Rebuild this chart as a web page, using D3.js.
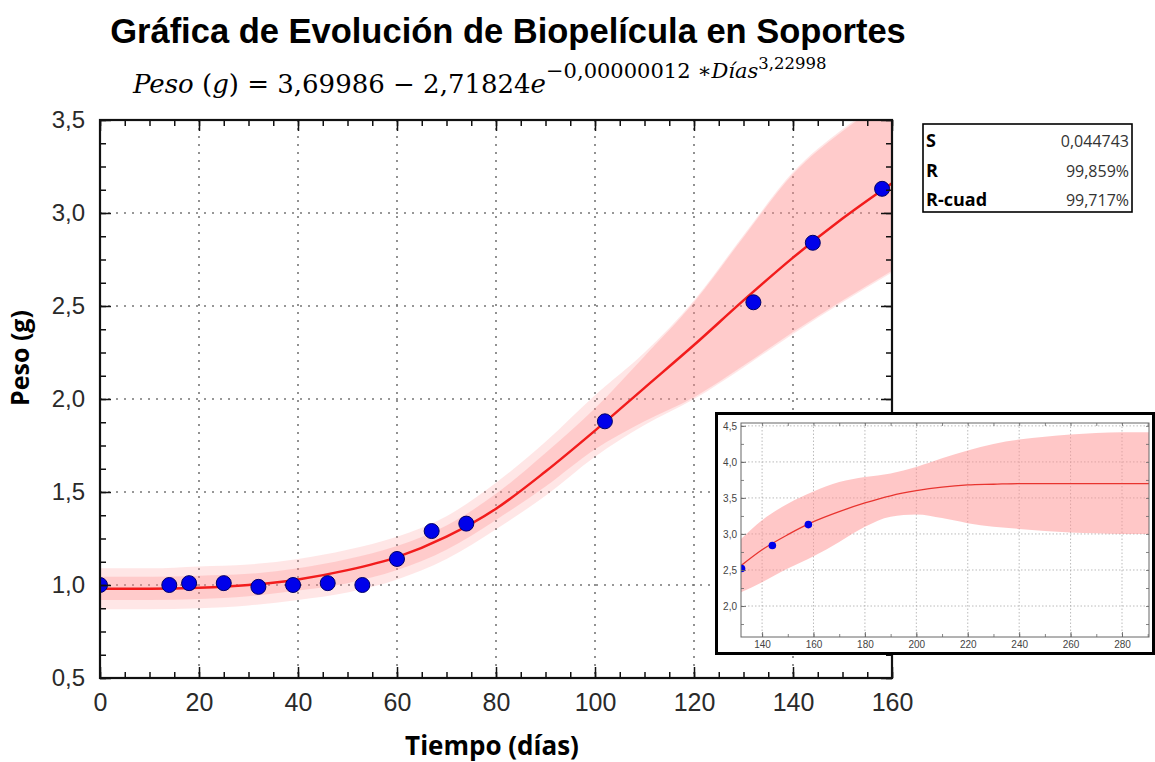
<!DOCTYPE html>
<html>
<head>
<meta charset="utf-8">
<script src="https://d3js.org/d3.v7.min.js"></script>
<style>
html, body { margin: 0; padding: 0; background: #fff; }
svg { display: block; }
.grid line { stroke: #777; stroke-width: 1.6; stroke-dasharray: 2,6; }
.igrid line { stroke: #aaa; stroke-width: 0.8; stroke-dasharray: 1.5,2; }
</style>
</head>
<body>
<script>
// measured points (días, peso g)
var dias = [0, 14, 18, 25, 32, 39, 46, 53, 60, 67, 74, 102, 132, 144, 158];
var peso = [1.00, 1.00, 1.01, 1.01, 0.99, 1.00, 1.01, 1.00, 1.14, 1.29, 1.33, 1.88, 2.52, 2.84, 3.13];

// fitted curve and bands
var fitT = [0, 10, 20, 30, 40, 50, 60, 70, 80, 90, 100, 110, 120, 130, 140, 150, 160];
var fitPeso = [0.98, 0.98, 0.985, 1.0, 1.03, 1.08, 1.15, 1.26, 1.41, 1.61, 1.83, 2.06, 2.29, 2.53, 2.76, 2.97, 3.16];
var predLo = [0.87, 0.87, 0.875, 0.89, 0.92, 0.96, 1.03, 1.14, 1.30, 1.48, 1.69, 1.86, 2.00, 2.17, 2.35, 2.52, 2.68];
var predHi = [1.09, 1.09, 1.10, 1.11, 1.14, 1.19, 1.26, 1.37, 1.55, 1.77, 2.02, 2.25, 2.53, 2.88, 3.22, 3.45, 3.63];
var confLo = [0.92, 0.92, 0.925, 0.94, 0.97, 1.01, 1.08, 1.19, 1.35, 1.53, 1.73, 1.88, 2.01, 2.18, 2.36, 2.53, 2.69];
var confHi = [1.045, 1.045, 1.05, 1.06, 1.09, 1.14, 1.21, 1.32, 1.49, 1.71, 1.95, 2.23, 2.52, 2.87, 3.21, 3.44, 3.62];

// inset (extrapolation)
var insT = [131.8, 140, 150, 160, 170, 180, 190, 200, 210, 220, 230, 240, 250, 260, 270, 280, 290.5];
var insPeso = [2.56, 2.78, 2.99, 3.17, 3.31, 3.43, 3.53, 3.60, 3.65, 3.68, 3.69, 3.70, 3.70, 3.70, 3.70, 3.70, 3.70];
var insLo = [2.19, 2.33, 2.52, 2.69, 2.89, 3.10, 3.24, 3.27, 3.22, 3.15, 3.10, 3.07, 3.04, 3.02, 3.01, 3.00, 3.00];
var insHi = [2.93, 3.19, 3.42, 3.59, 3.72, 3.79, 3.84, 3.93, 4.05, 4.16, 4.25, 4.31, 4.35, 4.38, 4.40, 4.41, 4.41];
var insDias = [132, 144, 158];
var insPts = [2.52, 2.84, 3.13];

// stats box
var statNames = ["S", "R", "R-cuad"];
var statValues = ["0,044743", "99,859%", "99,717%"];

var W = 1155, H = 762;
var svg = d3.select("body").append("svg").attr("width", W).attr("height", H);

var comma = function(f) { return function(d) { return f(d).replace(".", ","); }; };

// title
svg.append("text")
    .attr("x", 508).attr("y", 43)
    .attr("text-anchor", "middle")
    .style("font-family", "'Liberation Sans', Arial, sans-serif")
    .style("font-weight", "bold")
    .style("font-size", "34.5px")
    .text("Gráfica de Evolución de Biopelícula en Soportes");

// equation
var eq = svg.append("text")
    .attr("x", 133).attr("y", 93)
    .style("font-family", "'DejaVu Serif', serif")
    .style("font-size", "26px");
eq.append("tspan").style("font-style", "italic").text("Peso");
eq.append("tspan").text(" (");
eq.append("tspan").style("font-style", "italic").text("g");
eq.append("tspan").text(") = 3,69986 − 2,71824");
eq.append("tspan").style("font-style", "italic").text("e");
eq.append("tspan").attr("dy", -15).style("font-size", "21px").text("−0,00000012 ∗");
eq.append("tspan").style("font-size", "21px").style("font-style", "italic").text("Días");
eq.append("tspan").attr("dy", -9).style("font-size", "16.5px").text("3,22998");

// ---------- main plot ----------
var x = d3.scaleLinear().domain([0, 160]).range([100, 892]);
var y = d3.scaleLinear().domain([0.5, 3.5]).range([678, 120]);

svg.append("clipPath").attr("id", "clipMain")
    .append("rect").attr("x", 100).attr("y", 120).attr("width", 792).attr("height", 558);

// grid
svg.append("g").attr("class", "grid")
    .selectAll("line").data(d3.range(20, 160, 20)).enter().append("line")
    .attr("x1", function(d) { return x(d); }).attr("x2", function(d) { return x(d); })
    .attr("y1", 120).attr("y2", 678);
svg.append("g").attr("class", "grid")
    .selectAll("line").data([1.0, 1.5, 2.0, 2.5, 3.0]).enter().append("line")
    .attr("y1", function(d) { return y(d); }).attr("y2", function(d) { return y(d); })
    .attr("x1", 100).attr("x2", 892);

var plot = svg.append("g").attr("clip-path", "url(#clipMain)");

function band(lo, hi) {
    return d3.area()
        .x(function(d, i) { return x(fitT[i]); })
        .y0(function(d, i) { return y(lo[i]); })
        .y1(function(d, i) { return y(hi[i]); })
        .curve(d3.curveMonotoneX)(fitT);
}
plot.append("path").attr("d", band(predLo, predHi)).attr("fill", "#ff8f8f").attr("fill-opacity", 0.22);
plot.append("path").attr("d", band(confLo, confHi)).attr("fill", "#ff8f8f").attr("fill-opacity", 0.3);

plot.append("path")
    .attr("d", d3.line()
        .x(function(d, i) { return x(fitT[i]); })
        .y(function(d) { return y(d); })
        .curve(d3.curveMonotoneX)(fitPeso))
    .attr("fill", "none").attr("stroke", "#f21c1c").attr("stroke-width", 2.5);

plot.selectAll("circle.pt").data(dias).enter().append("circle")
    .attr("class", "pt")
    .attr("cx", function(d) { return x(d); })
    .attr("cy", function(d, i) { return y(peso[i]); })
    .attr("r", 7.5)
    .attr("fill", "#0000ea").attr("stroke", "#000066").attr("stroke-width", 1);

// ticks (inside, on all four sides)
var tickFont = function(g, size) {
    g.select(".domain").remove();
    g.selectAll("line").attr("stroke", "#111").attr("stroke-width", 1.5);
    g.selectAll("text").style("font-family", "'Liberation Sans', Arial, sans-serif")
        .style("font-size", size).attr("fill", "#2a2a2a");
};
var xMajor = d3.range(0, 161, 20), xMinor = d3.range(0, 161, 5);
var yMajor = d3.range(0.5, 3.51, 0.5), yMinor = d3.range(0.5, 3.51, 0.125);

svg.append("g").attr("transform", "translate(0,678)")
    .call(d3.axisBottom(x).tickValues(xMinor).tickSize(-6).tickFormat("")).call(tickFont, "24px");
svg.append("g").attr("transform", "translate(0,678)")
    .call(d3.axisBottom(x).tickValues(xMajor).tickSize(-11).tickPadding(15).tickFormat(d3.format("d")))
    .call(tickFont, "25px");
svg.append("g").attr("transform", "translate(0,120)")
    .call(d3.axisTop(x).tickValues(xMinor).tickSize(-6).tickFormat("")).call(tickFont, "24px");
svg.append("g").attr("transform", "translate(0,120)")
    .call(d3.axisTop(x).tickValues(xMajor).tickSize(-11).tickFormat("")).call(tickFont, "24px");
svg.append("g").attr("transform", "translate(100,0)")
    .call(d3.axisLeft(y).tickValues(yMinor).tickSize(-6).tickFormat("")).call(tickFont, "24px");
svg.append("g").attr("transform", "translate(100,0)")
    .call(d3.axisLeft(y).tickValues(yMajor).tickSize(-11).tickPadding(15).tickFormat(comma(d3.format(".1f"))))
    .call(tickFont, "24px");
svg.append("g").attr("transform", "translate(892,0)")
    .call(d3.axisRight(y).tickValues(yMinor).tickSize(-6).tickFormat("")).call(tickFont, "24px");
svg.append("g").attr("transform", "translate(892,0)")
    .call(d3.axisRight(y).tickValues(yMajor).tickSize(-11).tickFormat("")).call(tickFont, "24px");

svg.append("rect").attr("x", 100).attr("y", 120).attr("width", 792).attr("height", 558)
    .attr("fill", "none").attr("stroke", "#111").attr("stroke-width", 2.2);

// axis titles
svg.append("text")
    .attr("x", 492).attr("y", 755)
    .attr("text-anchor", "middle")
    .style("font-family", "'Open Sans', sans-serif").style("font-weight", "bold").style("font-size", "26px")
    .text("Tiempo (días)");
svg.append("text")
    .attr("transform", "translate(29,358) rotate(-90)")
    .attr("text-anchor", "middle")
    .style("font-family", "'Open Sans', sans-serif").style("font-weight", "bold").style("font-size", "25px")
    .text("Peso (g)");

// ---------- stats box ----------
svg.append("rect").attr("x", 923).attr("y", 124).attr("width", 209).attr("height", 88)
    .attr("fill", "#fff").attr("stroke", "#000").attr("stroke-width", 1.6);
var rowY = [147, 177, 206];
svg.selectAll("text.sname").data(statNames).enter().append("text")
    .attr("class", "sname")
    .attr("x", 926).attr("y", function(d, i) { return rowY[i]; })
    .style("font-family", "'Open Sans', sans-serif").style("font-weight", "bold").style("font-size", "18px")
    .text(function(d) { return d; });
svg.selectAll("text.sval").data(statValues).enter().append("text")
    .attr("class", "sval")
    .attr("x", 1129).attr("y", function(d, i) { return rowY[i]; })
    .attr("text-anchor", "end")
    .style("font-family", "'Open Sans', sans-serif").style("font-size", "16px").attr("fill", "#333")
    .text(function(d) { return d; });

// ---------- inset ----------
svg.append("rect").attr("x", 716.5).attr("y", 413.5).attr("width", 437).attr("height", 240)
    .attr("fill", "#fff").attr("stroke", "#000").attr("stroke-width", 3);

var ix = d3.scaleLinear().domain([131.8, 290.5]).range([741, 1149]);
var iy = d3.scaleLinear().domain([1.57, 4.54]).range([637, 423]);

svg.append("clipPath").attr("id", "clipInset")
    .append("rect").attr("x", 741).attr("y", 423).attr("width", 408).attr("height", 214);

svg.append("g").attr("class", "igrid")
    .selectAll("line").data(d3.range(140, 290, 20)).enter().append("line")
    .attr("x1", function(d) { return ix(d); }).attr("x2", function(d) { return ix(d); })
    .attr("y1", 423).attr("y2", 637);
svg.append("g").attr("class", "igrid")
    .selectAll("line").data([2.0, 2.5, 3.0, 3.5, 4.0, 4.5]).enter().append("line")
    .attr("y1", function(d) { return iy(d); }).attr("y2", function(d) { return iy(d); })
    .attr("x1", 741).attr("x2", 1149);

var inset = svg.append("g").attr("clip-path", "url(#clipInset)");
inset.append("path")
    .attr("d", d3.area()
        .x(function(d, i) { return ix(insT[i]); })
        .y0(function(d, i) { return iy(insLo[i]); })
        .y1(function(d, i) { return iy(insHi[i]); })
        .curve(d3.curveMonotoneX)(insT))
    .attr("fill", "#ff8f8f").attr("fill-opacity", 0.5);
inset.append("path")
    .attr("d", d3.line()
        .x(function(d, i) { return ix(insT[i]); })
        .y(function(d) { return iy(d); })
        .curve(d3.curveMonotoneX)(insPeso))
    .attr("fill", "none").attr("stroke", "#e8342f").attr("stroke-width", 1.3);
inset.selectAll("circle").data(insDias).enter().append("circle")
    .attr("cx", function(d) { return ix(d); })
    .attr("cy", function(d, i) { return iy(insPts[i]); })
    .attr("r", 3.8).attr("fill", "#0000ea");

var insetFont = function(g) {
    g.select(".domain").remove();
    g.selectAll("line").attr("stroke", "#666").attr("stroke-width", 0.8);
    g.selectAll("text").style("font-family", "'Liberation Sans', Arial, sans-serif")
        .style("font-size", "10px").attr("fill", "#444");
};
var ixMajor = d3.range(140, 281, 20), ixMinor = d3.range(140, 291, 10);
var iyMajor = d3.range(2.0, 4.51, 0.5), iyMinor = d3.range(1.75, 4.51, 0.25);
svg.append("g").attr("transform", "translate(0,637)")
    .call(d3.axisBottom(ix).tickValues(ixMinor).tickSize(-3).tickFormat("")).call(insetFont);
svg.append("g").attr("transform", "translate(0,637)")
    .call(d3.axisBottom(ix).tickValues(ixMajor).tickSize(-5).tickPadding(4).tickFormat(d3.format("d"))).call(insetFont);
svg.append("g").attr("transform", "translate(0,423)")
    .call(d3.axisTop(ix).tickValues(ixMinor).tickSize(-3).tickFormat("")).call(insetFont);
svg.append("g").attr("transform", "translate(741,0)")
    .call(d3.axisLeft(iy).tickValues(iyMinor).tickSize(-3).tickFormat("")).call(insetFont);
svg.append("g").attr("transform", "translate(741,0)")
    .call(d3.axisLeft(iy).tickValues(iyMajor).tickSize(-5).tickPadding(4).tickFormat(comma(d3.format(".1f")))).call(insetFont);
svg.append("g").attr("transform", "translate(1149,0)")
    .call(d3.axisRight(iy).tickValues(iyMinor).tickSize(-3).tickFormat("")).call(insetFont);

svg.append("rect").attr("x", 741).attr("y", 423).attr("width", 408).attr("height", 214)
    .attr("fill", "none").attr("stroke", "#666").attr("stroke-width", 1);
</script>
</body>
</html>
